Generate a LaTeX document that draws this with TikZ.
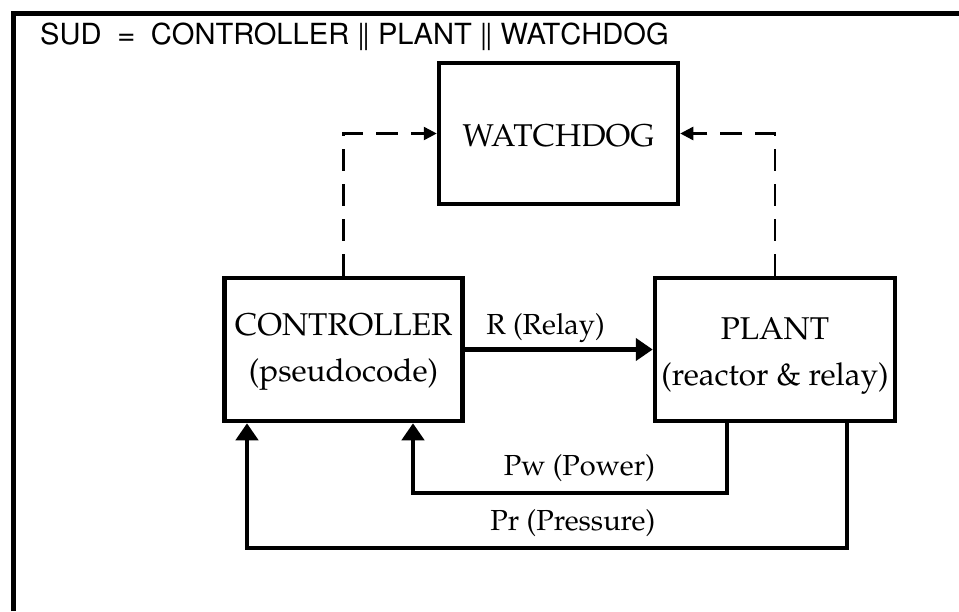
\documentclass[tikz,border=0pt]{standalone}
\usepackage[T1]{fontenc}
\usepackage{textcomp}
\renewcommand{\rmdefault}{ppl}
\usetikzlibrary{arrows.meta}
\tikzset{
  block/.style={draw, line width=4.5pt, inner sep=0pt},
  btext/.style={align=center, inner sep=0pt, font=\fontsize{31.5}{46}\selectfont},
  flow/.style={draw, line width=4.5pt, -{Triangle[length=17pt,width=22pt]}},
  watch/.style={draw, line width=2.5pt, dash pattern=on 22pt off 13pt,
    -{Triangle[length=13pt,width=13pt]}},
  lbl/.style={font=\fontsize{29}{34}\selectfont, inner sep=0pt},
  frame/.style={line width=5pt}
}
\begin{document}
\begin{tikzpicture}[x=1pt,y=-1pt]
\useasboundingbox (0,0) rectangle (959,611);
\draw[frame] (13,611) -- (13,13) -- (962,13);
\node[anchor=base west, inner sep=0pt, font=\fontfamily{phv}\fontsize{29.1}{32}\selectfont] (title) at (40,44) {SUD\ \ =\ \ CONTROLLER \textbardbl\ PLANT \textbardbl\ WATCHDOG};
\node[block, minimum width=239pt, minimum height=141pt] (wd) at (558.5,133.5) {};
\node[btext] (wdt) at (558.5,135.5) {WATCHDOG};
\node[block, minimum width=238pt, minimum height=143pt] (ctrl) at (343.5,349.5) {};
\node[btext] (ctrlt) at (343.5,352.5) {CONTROLLER\\(pseudocode)};
\node[block, minimum width=240pt, minimum height=143pt] (plant) at (775,349.5) {};
\node[btext] (plantt) at (775,356.5) {PLANT\\(reactor \& relay)};
\coordinate (pwr) at (727,493);
\coordinate (pwl) at (413,493);
\coordinate (prr) at (847,548);
\coordinate (prl) at (247,548);
\draw[watch] (ctrl.north) |- (wd.west);
\draw[watch] (plant.north) |- (wd.east);
\draw[flow] (ctrl.east) -- node[lbl, pos=0.43, above=5pt] (rl) {R (Relay)} (plant.west);
\draw[flow] (plant.south -| pwr) -- (pwr) -- node[lbl, pos=0.47, above=9pt] (pwlbl) {Pw (Power)} (pwl) -- (ctrl.south -| pwl);
\draw[flow] (plant.south -| prr) -- (prr) -- node[lbl, pos=0.457, above=9pt] (prlbl) {Pr (Pressure)} (prl) -- (ctrl.south -| prl);
\end{tikzpicture}
\end{document}
